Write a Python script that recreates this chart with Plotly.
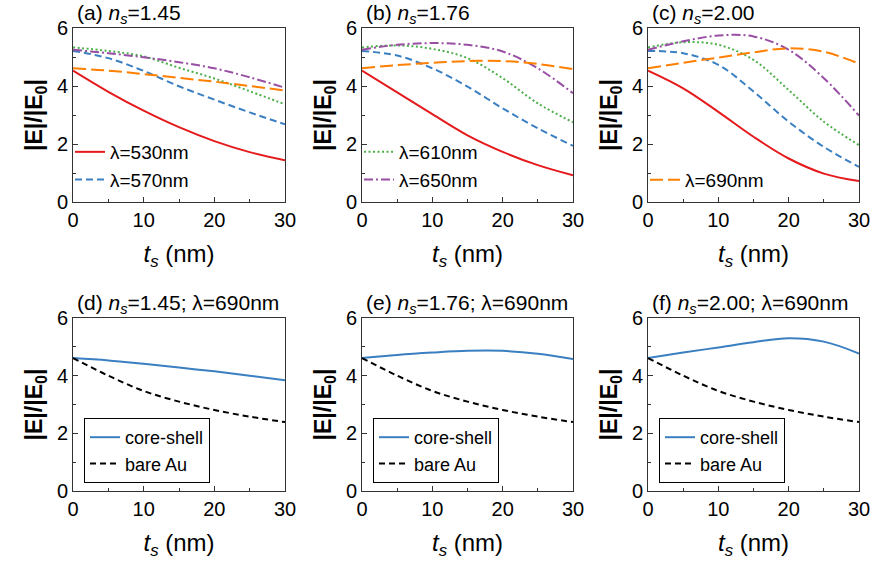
import plotly.graph_objects as go

# ---------------- data ----------------
t = [0, 5, 10, 15, 20, 25, 30]

# (a) n_s = 1.45
a_530 = [4.53, 3.80, 3.15, 2.58, 2.10, 1.72, 1.44]
a_570 = [5.21, 4.96, 4.52, 3.99, 3.53, 3.09, 2.68]
a_610 = [5.33, 5.21, 5.02, 4.63, 4.26, 3.82, 3.37]
a_650 = [5.25, 5.13, 4.99, 4.82, 4.61, 4.30, 3.94]
a_690 = [4.61, 4.53, 4.41, 4.28, 4.15, 4.00, 3.84]

# (b) n_s = 1.76
b_530 = [4.53, 3.78, 3.03, 2.30, 1.73, 1.27, 0.92]
b_570 = [5.21, 5.05, 4.61, 3.98, 3.23, 2.54, 1.94]
b_610 = [5.33, 5.40, 5.28, 4.96, 4.27, 3.40, 2.75]
b_650 = [5.25, 5.42, 5.48, 5.42, 5.19, 4.61, 3.75]
b_690 = [4.61, 4.72, 4.80, 4.86, 4.86, 4.76, 4.58]

# (c) n_s = 2.00
c_530 = [4.53, 3.92, 3.11, 2.25, 1.50, 0.98, 0.72]
c_570 = [5.21, 5.13, 4.73, 3.81, 2.77, 1.90, 1.21]
c_610 = [5.33, 5.51, 5.42, 4.90, 3.86, 2.77, 1.96]
c_650 = [5.25, 5.54, 5.74, 5.71, 5.25, 4.27, 2.98]
c_690 = [4.61, 4.80, 4.98, 5.16, 5.30, 5.18, 4.77]

# bottom row: lambda = 690 nm, bare Au reference
bare_au = [4.61, 4.00, 3.47, 3.10, 2.81, 2.58, 2.39]

wavelengths = ["λ=530nm", "λ=570nm", "λ=610nm", "λ=650nm", "λ=690nm"]
panel_titles = [
    "(a) <i>n<sub>s</sub></i>=1.45",
    "(b) <i>n<sub>s</sub></i>=1.76",
    "(c) <i>n<sub>s</sub></i>=2.00",
    "(d) <i>n<sub>s</sub></i>=1.45; λ=690nm",
    "(e) <i>n<sub>s</sub></i>=1.76; λ=690nm",
    "(f) <i>n<sub>s</sub></i>=2.00; λ=690nm",
]
x_ticks = [0, 10, 20, 30]
y_ticks = [0, 2, 4, 6]

# ---------------- styling ----------------
colors = ["#e41a1c", "#3a7fc1", "#4daf4a", "#984ea3", "#ff7f00"]
dashes = ["solid", "7px,4px", "2px,2.5px", "9px,3px,2px,3px", "13px,5px"]
FONT = "Liberation Sans, Arial, sans-serif"

W, H = 875, 571
xdom = [(73 / W, 285 / W), (362 / W, 573 / W), (648 / W, 859 / W)]
ydom_top = (1 - 202 / H, 1 - 28 / H)
ydom_bot = (1 - 491 / H, 1 - 318 / H)

fig = go.Figure()

top_sets = [
    [a_530, a_570, a_610, a_650, a_690],
    [b_530, b_570, b_610, b_650, b_690],
    [c_530, c_570, c_610, c_650, c_690],
]
legend_of = {0: [0, 1], 1: [2, 3], 2: [4]}
leg_names = ["legend", "legend2", "legend3"]

for p, series in enumerate(top_sets):
    ax = "" if p == 0 else str(p + 1)
    for i, ys in enumerate(series):
        show = i in legend_of[p]
        fig.add_trace(go.Scatter(
            x=t, y=ys, mode="lines", name=wavelengths[i],
            line=dict(color=colors[i], width=2, dash=dashes[i], shape="spline"),
            xaxis="x" + ax, yaxis="y" + ax,
            showlegend=show, legend=leg_names[p],
        ))

core_shell_sets = [a_690, b_690, c_690]
for p in range(3):
    n = p + 4
    ax = str(n)
    leg = "legend" + str(n)
    fig.add_trace(go.Scatter(
        x=t, y=core_shell_sets[p], mode="lines", name="core-shell",
        line=dict(color="#3a7fc1", width=2, shape="spline"),
        xaxis="x" + ax, yaxis="y" + ax, legend=leg, showlegend=True))
    fig.add_trace(go.Scatter(
        x=t, y=bare_au, mode="lines", name="bare Au",
        line=dict(color="black", width=2, dash="6px,4px", shape="spline"),
        xaxis="x" + ax, yaxis="y" + ax, legend=leg, showlegend=True))

axis_common = dict(
    showline=True, linecolor="#333", linewidth=1, mirror=True,
    ticks="inside", ticklen=5, tickcolor="#333", showgrid=False, zeroline=False,
    automargin=False,
    tickfont=dict(family=FONT, size=20, color="black"),
)
layout = dict(
    width=W, height=H, margin=dict(l=0, r=0, t=0, b=0, autoexpand=False),
    paper_bgcolor="white", plot_bgcolor="white",
    font=dict(family=FONT, color="black"),
)
for n in range(1, 7):
    col = (n - 1) % 3
    row = (n - 1) // 3
    xk = "xaxis" if n == 1 else "xaxis" + str(n)
    yk = "yaxis" if n == 1 else "yaxis" + str(n)
    xa = "x" if n == 1 else "x" + str(n)
    ya = "y" if n == 1 else "y" + str(n)
    layout[xk] = dict(axis_common, domain=xdom[col], anchor=ya, range=[0, 30],
                      tickvals=x_ticks,
                      minor=dict(ticks="inside", ticklen=3, dtick=5, tickcolor="#333"),
                      title=dict(text="<i>t<sub>s</sub></i> (nm)",
                                 font=dict(family=FONT, size=24), standoff=15))
    layout[yk] = dict(axis_common, domain=ydom_top if row == 0 else ydom_bot,
                      anchor=xa, range=[0, 6], tickvals=y_ticks,
                      minor=dict(ticks="inside", ticklen=3, dtick=1, tickcolor="#333"),
                      title=dict(text="<b>|E|/|E<sub>0</sub>|</b>",
                                 font=dict(family=FONT, size=23), standoff=7))

# legends
top_leg = dict(bgcolor="rgba(0,0,0,0)", borderwidth=0,
               font=dict(family=FONT, size=19), xanchor="left", yanchor="bottom",
               tracegroupgap=0, itemwidth=30)
layout["legend"] = dict(top_leg, x=70 / W, y=1 - 199 / H)
layout["legend2"] = dict(top_leg, x=359 / W, y=1 - 199 / H)
layout["legend3"] = dict(top_leg, x=645 / W, y=1 - 199 / H)
bot_leg = dict(bgcolor="white", bordercolor="black", borderwidth=1,
               font=dict(family=FONT, size=18), xanchor="left", yanchor="top",
               itemwidth=30)
layout["legend4"] = dict(bot_leg, x=84 / W, y=1 - 418 / H)
layout["legend5"] = dict(bot_leg, x=373 / W, y=1 - 418 / H)
layout["legend6"] = dict(bot_leg, x=659 / W, y=1 - 418 / H)

annotations = []
title_pos = [(75, 14), (364, 14), (650, 14), (75, 304), (364, 304), (650, 304)]
for txt, (px, py) in zip(panel_titles, title_pos):
    annotations.append(dict(text=txt, x=px / W, y=1 - py / H, xref="paper", yref="paper",
                            xanchor="left", yanchor="middle", showarrow=False,
                            font=dict(family=FONT, size=21, color="black")))
layout["annotations"] = annotations

fig.update_layout(**layout)
fig.write_html("out.html", config={"displayModeBar": False},
               post_script="document.body.style.margin='0';document.body.style.overflow='hidden';")
